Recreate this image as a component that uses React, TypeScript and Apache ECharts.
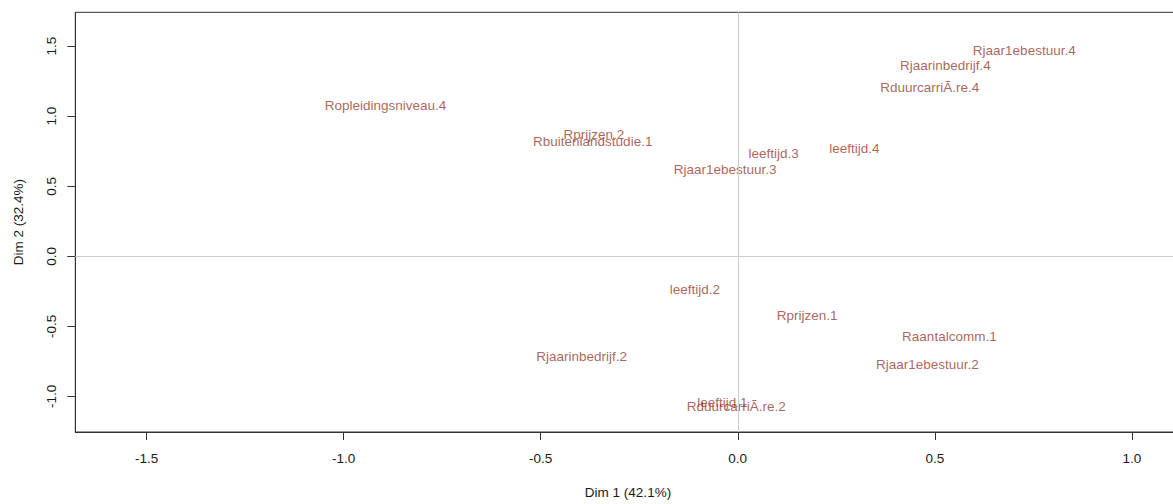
import React, { useEffect, useRef } from "react";
import * as echarts from "echarts";

const labels = [
  "Ropleidingsniveau.4",
  "Rprijzen.2",
  "Rbuitenlandstudie.1",
  "leeftijd.3",
  "Rjaar1ebestuur.3",
  "Rjaar1ebestuur.4",
  "Rjaarinbedrijf.4",
  "RduurcarriÃ.re.4",
  "leeftijd.4",
  "leeftijd.2",
  "Rprijzen.1",
  "Raantalcomm.1",
  "Rjaar1ebestuur.2",
  "Rjaarinbedrijf.2",
  "RduurcarriÃ.re.2",
  "leeftijd.1",
];
const dim1 = [-0.894, -0.365, -0.368, 0.091, -0.032, 0.727, 0.527, 0.487, 0.296, -0.109, 0.176, 0.537, 0.481, -0.396, -0.004, -0.039];
const dim2 = [1.083, 0.875, 0.827, 0.74, 0.628, 1.479, 1.368, 1.213, 0.775, -0.233, -0.413, -0.565, -0.766, -0.707, -1.067, -1.038];
const xTicks = [-1.5, -1.0, -0.5, 0.0, 0.5, 1.0];
const yTicks = [-1.0, -0.5, 0.0, 0.5, 1.0, 1.5];
const xTitle = "Dim 1 (42.1%)";
const yTitle = "Dim 2 (32.4%)";

const FONT = "'Liberation Sans', Arial, Helvetica, sans-serif";

export default function App() {
  const ref = useRef<HTMLDivElement>(null);
  useEffect(() => {
    const chart = echarts.init(ref.current!, null, { renderer: "svg" });
    const data = labels.map((name, i) => ({ name, value: [dim1[i], dim2[i]] }));
    chart.setOption({
      animation: false,
      backgroundColor: "#ffffff",
      textStyle: { fontFamily: FONT },
      grid: {
        left: 75.3,
        right: 1.3,
        top: 12.3,
        bottom: 70.3,
        show: true,
        borderColor: "#333333",
        borderWidth: 1,
        backgroundColor: "transparent",
      },
      xAxis: {
        type: "value",
        min: -1.681,
        max: 1.124,
        name: xTitle,
        nameLocation: "middle",
        nameGap: 53,
        nameTextStyle: { fontSize: 13.5, color: "#1a1a1a", fontFamily: FONT },
        axisLine: { show: true, onZero: false, lineStyle: { color: "#333", width: 1 } },
        axisTick: { show: true, length: 8, customValues: xTicks, lineStyle: { color: "#333" } },
        axisLabel: {
          customValues: xTicks,
          margin: 19,
          fontSize: 13.5,
          color: "#1a1a1a",
          fontFamily: FONT,
          formatter: (v: number) => v.toFixed(1),
        },
        splitLine: { show: false },
      },
      yAxis: {
        type: "value",
        min: -1.2546,
        max: 1.742,
        name: yTitle,
        nameLocation: "middle",
        nameGap: 50,
        nameRotate: 90,
        nameTextStyle: { fontSize: 13.5, color: "#1a1a1a", fontFamily: FONT },
        axisLine: { show: true, onZero: false, lineStyle: { color: "#333", width: 1 } },
        axisTick: { show: true, length: 8, customValues: yTicks, lineStyle: { color: "#333" } },
        axisLabel: {
          customValues: yTicks,
          margin: 17,
          rotate: 90,
          fontSize: 13.5,
          color: "#1a1a1a",
          fontFamily: FONT,
          formatter: (v: number) => v.toFixed(1),
        },
        splitLine: { show: false },
      },
      series: [
        {
          type: "scatter",
          data,
          symbolSize: 1,
          itemStyle: { color: "rgba(0,0,0,0)" },
          label: {
            show: true,
            position: "inside",
            offset: [0, 1],
            formatter: (p: any) => p.name,
            fontSize: 13.5,
            color: "#963d2f",
            fontFamily: FONT,
          },
          emphasis: { disabled: true },
          markLine: {
            silent: true,
            symbol: "none",
            label: { show: false },
            lineStyle: { color: "#cccccc", type: "solid", width: 1 },
            data: [{ xAxis: 0 }, { yAxis: 0 }],
          },
        },
      ],
    });
    return () => chart.dispose();
  }, []);
  return (
    <div
      style={{
        position: "fixed",
        left: 0,
        top: 0,
        width: 1173,
        height: 504,
        overflow: "hidden",
        background: "#fff",
      }}
    >
      <div ref={ref} style={{ width: 1182, height: 504 }} />
    </div>
  );
}
